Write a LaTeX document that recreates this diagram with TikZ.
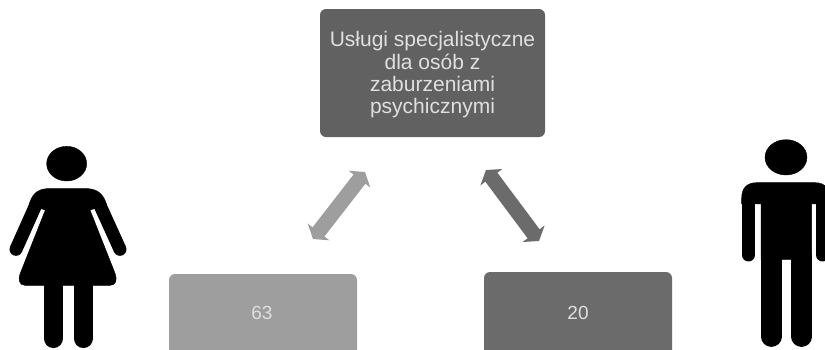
\documentclass[tikz,border=0pt]{standalone}
\usepackage{fontspec}
\setmainfont{Liberation Sans}
\usetikzlibrary{arrows.meta}
\definecolor{topfill}{gray}{0.38}
\definecolor{leftfill}{gray}{0.62}
\definecolor{rightfill}{gray}{0.42}
\definecolor{labelgray}{gray}{0.88}
\tikzset{
  infobox/.style={rounded corners=6pt,minimum width=#1,inner sep=0pt,text=labelgray,align=center},
  twoway/.style={line width=15pt,{Triangle[width=27pt,length=9pt]}-{Triangle[width=27pt,length=9pt]}},
  figureink/.style={fill=black,draw=black,line width=.4pt,line join=round},
  limb/.style={draw=black,line cap=round,line join=round}
}
\begin{document}
\begin{tikzpicture}[x=1pt,y=-1pt]
\useasboundingbox (0,0) rectangle (825,349);
\node[infobox=225pt,fill=topfill,minimum height=128pt,font=\fontsize{21}{22.3}\selectfont] (top) at (432.5,73)
  {\rule{0pt}{19pt}Usługi specjalistyczne\\dla osób z\\zaburzeniami\\psychicznymi};
\begin{scope}
\clip (0,0) rectangle (825,349);
\node[infobox=188pt,fill=leftfill,minimum height=86pt] (left) at (263,317) {};
\node[infobox=188pt,fill=rightfill,minimum height=90pt] (right) at (578,317) {};
\end{scope}
\node[text=labelgray,font=\fontsize{19}{22}\selectfont] (leftval) at (262,313) {63};
\node[text=labelgray,font=\fontsize{19}{22}\selectfont] (rightval) at (578,313) {20};
\coordinate (la) at (313,239);
\coordinate (lb) at (365,172);
\coordinate (ra) at (486,170);
\coordinate (rb) at (539,241);
\draw[twoway,leftfill] (la) -- (lb);
\draw[twoway,rightfill] (ra) -- (rb);
% woman
\begin{scope}[shift={(0,130)},x=.3333pt,y=-.3333pt]
\fill[figureink] (200,101) ellipse [x radius=60,y radius=52];
\draw[limb,line width=13pt] (106,228) -- (48,358);
\draw[limb,line width=13pt] (301,228) -- (360,358);
\fill[figureink] (87,225) .. controls (95,195) and (110,178) .. (140,176) -- (265,176)
  .. controls (295,178) and (312,195) .. (320,225) -- (270,240) -- (346,432)
  .. controls (352,450) and (348,466) .. (330,466) -- (75,466)
  .. controls (58,466) and (54,450) .. (60,432) -- (136,240) -- cycle;
\draw[limb,line width=19.5pt] (160,460) -- (160,625);
\draw[limb,line width=19.5pt] (250,460) -- (250,625);
\end{scope}
% man
\begin{scope}[shift={(700,130)},x=.3333pt,y=-.3333pt]
\fill[figureink] (258,82) ellipse [x radius=63,y radius=53];
\draw[limb,line width=13pt] (145,205) -- (145,375);
\draw[limb,line width=13pt] (368,205) -- (368,375);
\fill[figureink] (125,205) .. controls (125,175) and (140,158) .. (170,158) -- (345,158)
  .. controls (375,158) and (388,175) .. (388,205) -- (388,222) -- (335,222) -- (335,388) -- (183,388) -- (183,222) -- (125,222) -- cycle;
\draw[limb,line width=20.5pt] (214,380) -- (214,620);
\draw[limb,line width=20.5pt] (305,380) -- (305,620);
\end{scope}
\end{tikzpicture}
\end{document}
